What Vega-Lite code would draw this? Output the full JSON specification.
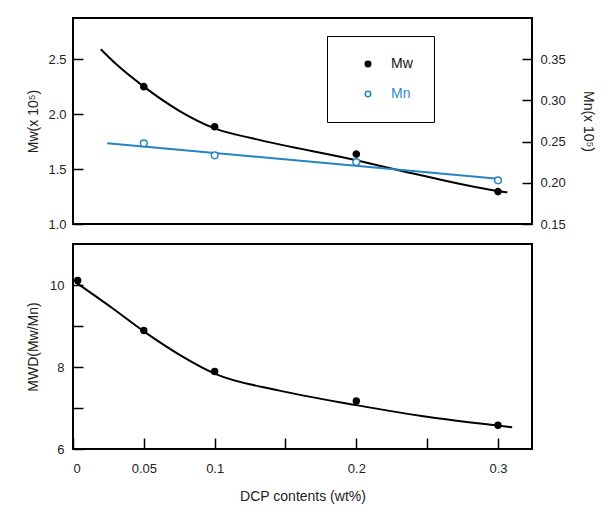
{
  "$schema": "https://vega.github.io/schema/vega-lite/v6.json",
  "padding": {"left": 25, "top": 17, "right": 5, "bottom": 5},
  "background": "white",
  "config": {
    "font": "Liberation Sans",
    "view": {"stroke": "black", "strokeWidth": 2},
    "axis": {
      "grid": false,
      "domain": false,
      "tickColor": "black",
      "tickWidth": 1.5,
      "labelFont": "Liberation Sans",
      "labelFontSize": 13,
      "labelColor": "#222",
      "titleFont": "Liberation Sans",
      "titleFontSize": 14,
      "titleFontWeight": "normal",
      "titleColor": "#222"
    }
  },
  "datasets": {
    "mwCurve": [
      {"x": 0.0196, "Mw": 2.59},
      {"x": 0.03, "Mw": 2.46},
      {"x": 0.05, "Mw": 2.25},
      {"x": 0.075, "Mw": 2.03},
      {"x": 0.1, "Mw": 1.87},
      {"x": 0.13, "Mw": 1.77},
      {"x": 0.2, "Mw": 1.58},
      {"x": 0.23, "Mw": 1.49},
      {"x": 0.3, "Mw": 1.3},
      {"x": 0.3066, "Mw": 1.288}
    ],
    "mwPts": [
      {"x": 0.05, "Mw": 2.25, "series": "Mw"},
      {"x": 0.1, "Mw": 1.885, "series": "Mw"},
      {"x": 0.2, "Mw": 1.636, "series": "Mw"},
      {"x": 0.3, "Mw": 1.295, "series": "Mw"}
    ],
    "mnLine": [
      {"x": 0.0242, "Mn": 0.248},
      {"x": 0.3, "Mn": 0.205}
    ],
    "mnPts": [
      {"x": 0.05, "Mn": 0.248, "series": "Mn"},
      {"x": 0.1, "Mn": 0.2334, "series": "Mn"},
      {"x": 0.2, "Mn": 0.2251, "series": "Mn"},
      {"x": 0.3, "Mn": 0.203, "series": "Mn"}
    ],
    "mwdCurve": [
      {"x": 0.0017, "MWD": 10.07},
      {"x": 0.0276, "MWD": 9.44},
      {"x": 0.05, "MWD": 8.87},
      {"x": 0.0747, "MWD": 8.31},
      {"x": 0.1, "MWD": 7.84},
      {"x": 0.145, "MWD": 7.43},
      {"x": 0.2, "MWD": 7.07},
      {"x": 0.251, "MWD": 6.78},
      {"x": 0.3, "MWD": 6.57},
      {"x": 0.31, "MWD": 6.53}
    ],
    "mwdPts": [
      {"x": 0.0033, "MWD": 10.11},
      {"x": 0.05, "MWD": 8.89},
      {"x": 0.1, "MWD": 7.89},
      {"x": 0.2, "MWD": 7.17},
      {"x": 0.3, "MWD": 6.58}
    ]
  },
  "spacing": 11,
  "vconcat": [
    {
      "width": 459,
      "height": 206,
      "resolve": {"scale": {"y": "independent"}},
      "layer": [
        {
          "layer": [
            {
              "data": {"name": "mwCurve"},
              "mark": {"type": "line", "color": "black", "strokeWidth": 2, "interpolate": "monotone"},
              "encoding": {
                "x": {"field": "x", "type": "quantitative", "scale": {"domain": [0, 0.324], "nice": false}, "axis": null},
                "y": {
                  "field": "Mw", "type": "quantitative",
                  "scale": {"domain": [1, 2.875], "nice": false},
                  "axis": {"orient": "left", "values": [1, 1.5, 2, 2.5], "format": ".1f", "tickSize": -10, "labelPadding": 17, "title": "Mw(x 10⁵)", "titlePadding": 7}
                }
              }
            },
            {
              "data": {"name": "mwPts"},
              "mark": {"type": "point", "filled": true, "size": 38, "strokeWidth": 1.5, "opacity": 1},
              "encoding": {
                "x": {"field": "x", "type": "quantitative"},
                "y": {"field": "Mw", "type": "quantitative"},
                "fill": {
                  "field": "series", "type": "nominal",
                  "scale": {"domain": ["Mw", "Mn"], "range": ["black", "white"]},
                  "legend": {
                    "title": null,
                    "orient": "none",
                    "legendX": 254,
                    "legendY": 18,
                    "padding": 21,
                    "strokeColor": "black",
                    "symbolOffset": 13,
                    "symbolSize": 30,
                    "symbolType": "circle",
                    "symbolStrokeWidth": 1.5,
                    "labelOffset": 16,
                    "labelFontSize": 14,
                    "labelFont": "Liberation Sans",
                    "rowPadding": 16,
                    "labelExpr": "datum.label + '\u2003\u2003\u2003'",
                    "labelColor": {"expr": "datum.label == 'Mn' ? '#2e8fcc' : '#111'"},
                    "encode": {
                      "legend": {"update": {"strokeWidth": {"value": 2}}}
                    }
                  }
                },
                "stroke": {
                  "field": "series", "type": "nominal",
                  "scale": {"domain": ["Mw", "Mn"], "range": ["black", "#2585c2"]}
                }
              }
            }
          ]
        },
        {
          "layer": [
            {
              "data": {"name": "mnLine"},
              "mark": {"type": "line", "color": "#2585c2", "strokeWidth": 2},
              "encoding": {
                "x": {"field": "x", "type": "quantitative"},
                "y": {
                  "field": "Mn", "type": "quantitative",
                  "scale": {"domain": [0.15, 0.4], "nice": false},
                  "axis": {"orient": "right", "values": [0.15, 0.2, 0.25, 0.3, 0.35], "format": ".2f", "tickSize": -10, "labelPadding": 18, "title": "Mn(x 10⁵)", "titlePadding": 15}
                }
              }
            },
            {
              "data": {"name": "mnPts"},
              "mark": {"type": "point", "filled": true, "strokeWidth": 1.5, "size": 45, "opacity": 1},
              "encoding": {
                "x": {"field": "x", "type": "quantitative"},
                "y": {"field": "Mn", "type": "quantitative"},
                "fill": {"field": "series", "type": "nominal"},
                "stroke": {"field": "series", "type": "nominal"}
              }
            }
          ]
        }
      ]
    },
    {
      "width": 459,
      "height": 205,
      "layer": [
        {
          "data": {"name": "mwdCurve"},
          "mark": {"type": "line", "color": "black", "strokeWidth": 2, "interpolate": "monotone"},
          "encoding": {
            "x": {
              "field": "x", "type": "quantitative",
              "scale": {"domain": [0, 0.324], "nice": false},
              "axis": {"values": [0, 0.05, 0.1, 0.15, 0.2, 0.25, 0.3], "format": "~g", "labelExpr": "datum.value == 0.15 || datum.value == 0.25 ? '' : datum.label", "tickSize": -11, "labelPadding": 24, "title": "DCP contents (wt%)", "titlePadding": 14}
            },
            "y": {
              "field": "MWD", "type": "quantitative",
              "scale": {"domain": [6, 11], "nice": false},
              "axis": {"values": [6, 7, 8, 9, 10], "format": "d", "labelExpr": "datum.value % 2 == 0 ? datum.label : ''", "tickSize": -10, "labelPadding": 19, "title": "MWD(Mw/Mn)", "titlePadding": 9}
            }
          }
        },
        {
          "data": {"name": "mwdPts"},
          "mark": {"type": "point", "filled": true, "size": 55, "color": "black", "opacity": 1},
          "encoding": {
            "x": {"field": "x", "type": "quantitative"},
            "y": {"field": "MWD", "type": "quantitative"}
          }
        }
      ]
    }
  ]
}
